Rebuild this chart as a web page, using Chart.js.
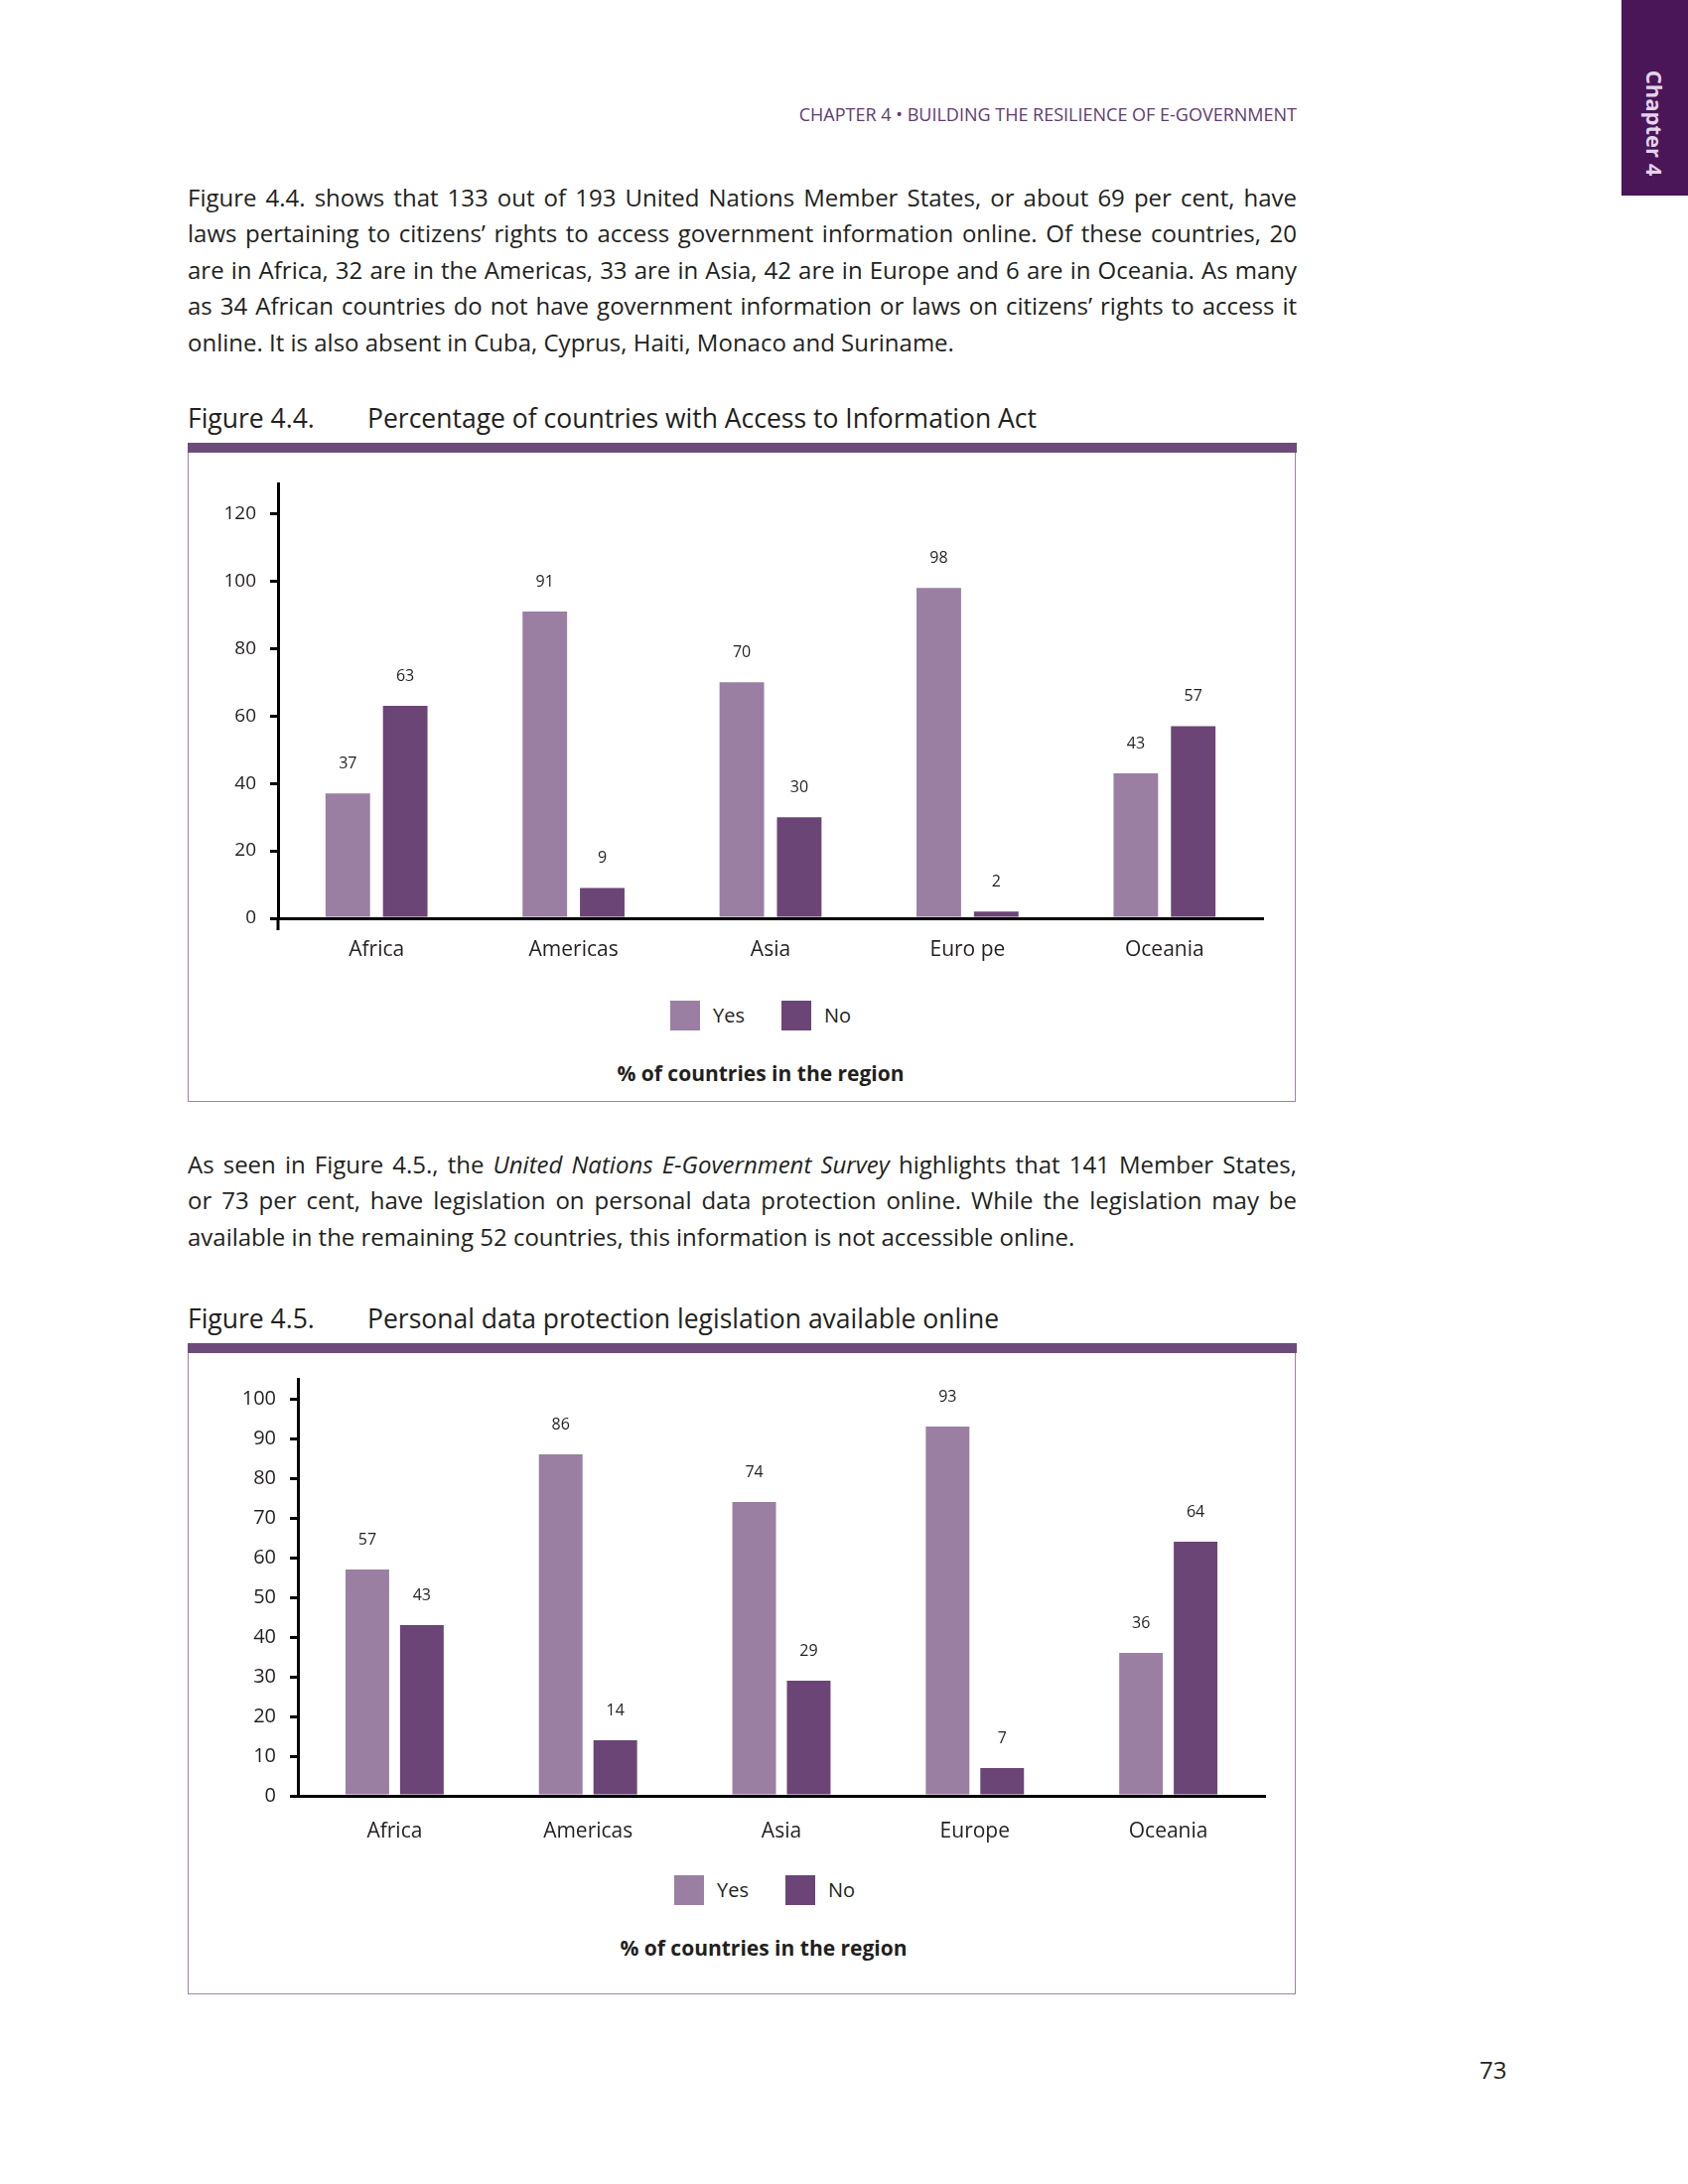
<!DOCTYPE html>
<html>
<head>
<meta charset="utf-8">
<script src="https://cdn.jsdelivr.net/npm/chart.js@4.4.0/dist/chart.umd.min.js"></script>
<style>
html, body { margin: 0; padding: 0; background: #fff; }
body { width: 1700px; height: 2200px; position: relative; overflow: hidden; font-family: "Open Sans", sans-serif; color: #231f20; }
.tab { position: absolute; left: 1633px; top: 0; width: 67px; height: 197px; background: #4a1658; }
.tab span { position: absolute; left: 50%; top: 124px; transform: translate(-50%, -50%) rotate(90deg); color: #e3d3ea; font-weight: 700; font-size: 22px; white-space: nowrap; }
.header { position: absolute; right: 394px; top: 103px; font-size: 18px; line-height: 24px; color: #5f3b6f; white-space: nowrap; }
.para { position: absolute; left: 189px; width: 1117px; font-size: 24px; line-height: 36.4px; }
.para .l { display: block; white-space: nowrap; }
.figtitle { position: absolute; left: 189px; font-size: 26.5px; line-height: 30px; white-space: nowrap; }
.figtitle .t { position: absolute; left: 181px; top: 0; }
.rule { position: absolute; left: 189px; width: 1117px; height: 10px; background: #6d4c7b; }
.box { position: absolute; left: 189px; width: 1114px; border: 1.5px solid #9b85a3; border-top: none; }
.box canvas { display: block; }
.legend { position: absolute; display: flex; align-items: center; font-size: 20px; line-height: 30px; white-space: nowrap; }
.legend .item { display: flex; align-items: center; margin-right: 37px; }
.legend .sw { width: 30px; height: 30px; margin-right: 13px; }
.axnote { position: absolute; width: 400px; text-align: center; font-size: 21px; font-weight: 700; line-height: 30px; white-space: nowrap; }
.pageno { position: absolute; left: 1490px; top: 2070px; font-size: 24px; line-height: 30px; }
</style>
</head>
<body>

<div class="tab"><span>Chapter 4</span></div>
<div class="header">CHAPTER 4 &bull; BUILDING THE RESILIENCE OF E-GOVERNMENT</div>

<div class="para" style="top:181px">
  <span class="l">Figure 4.4. shows that 133 out of 193 United Nations Member States, or about 69 per cent, have</span>
  <span class="l">laws pertaining to citizens’ rights to access government information online. Of these countries, 20</span>
  <span class="l">are in Africa, 32 are in the Americas, 33 are in Asia, 42 are in Europe and 6 are in Oceania. As many</span>
  <span class="l">as 34 African countries do not have government information or laws on citizens’ rights to access it</span>
  <span class="l last">online. It is also absent in Cuba, Cyprus, Haiti, Monaco and Suriname.</span>
</div>

<div class="figtitle" style="top:406px">Figure 4.4.<span class="t">Percentage of countries with Access to Information Act</span></div>
<div class="rule" style="top:446px"></div>
<div class="box" style="top:456px; height:653px"><canvas id="accessChart" width="1114" height="533"></canvas></div>
<div class="legend" id="accessLegend" style="left:675px; top:1008px"></div>
<div class="axnote" id="accessNote" style="left:566px; top:1066px"></div>

<div class="para" style="top:1155px">
  <span class="l">As seen in Figure 4.5., the <i>United Nations E-Government Survey</i> highlights that 141 Member States,</span>
  <span class="l">or 73 per cent, have legislation on personal data protection online. While the legislation may be</span>
  <span class="l last">available in the remaining 52 countries, this information is not accessible online.</span>
</div>

<div class="figtitle" style="top:1313px">Figure 4.5.<span class="t">Personal data protection legislation available online</span></div>
<div class="rule" style="top:1353px"></div>
<div class="box" style="top:1363px; height:645px"><canvas id="privacyChart" width="1114" height="518"></canvas></div>
<div class="legend" id="privacyLegend" style="left:679px; top:1889px"></div>
<div class="axnote" id="privacyNote" style="left:569px; top:1947px"></div>

<div class="pageno">73</div>

<script>
'use strict';

// Figure 4.4 - Access to Information Act
var accessRegions = ['Africa', 'Americas', 'Asia', 'Euro pe', 'Oceania'];
var accessYes = [37, 91, 70, 98, 43];
var accessNo = [63, 9, 30, 2, 57];

// Figure 4.5 - Personal data protection legislation
var privacyRegions = ['Africa', 'Americas', 'Asia', 'Europe', 'Oceania'];
var privacyYes = [57, 86, 74, 93, 36];
var privacyNo = [43, 14, 29, 7, 64];

var seriesNames = ['Yes', 'No'];
var axisNote = '% of countries in the region';

var YES_COLOR = '#9a7fa2';
var NO_COLOR = '#6b4576';
var FONT = '"Open Sans", sans-serif';

Chart.defaults.font.family = FONT;
Chart.defaults.color = '#231f20';

// justify each body line exactly to the column width
document.querySelectorAll('.para .l').forEach(function(line) {
    if (line.classList.contains('last')) return;
    var gaps = line.textContent.trim().split(/\s+/).length - 1;
    var span = document.createElement('span');
    while (line.firstChild) span.appendChild(line.firstChild);
    line.appendChild(span);
    var natural = span.getBoundingClientRect().width;
    line.style.wordSpacing = ((1117 - natural) / gaps) + 'px';
});

// value printed above every bar
var barValues = {
    id: 'barValues',
    afterDatasetsDraw: function(chart, args, opts) {
        var ctx = chart.ctx;
        ctx.save();
        ctx.font = opts.size + 'px ' + FONT;
        ctx.fillStyle = '#231f20';
        ctx.textAlign = 'center';
        ctx.textBaseline = 'middle';
        chart.data.datasets.forEach(function(ds, i) {
            chart.getDatasetMeta(i).data.forEach(function(bar, j) {
                ctx.fillText(ds.data[j], bar.x, bar.y - opts.offset);
            });
        });
        ctx.restore();
    }
};

// short piece of the y axis below zero
var axisStub = {
    id: 'axisStub',
    afterDraw: function(chart, args, opts) {
        if (!opts.length) return;
        var y = chart.scales.y;
        var ctx = chart.ctx;
        var base = y.getPixelForValue(0);
        ctx.save();
        ctx.strokeStyle = '#000';
        ctx.lineWidth = 3;
        ctx.beginPath();
        ctx.moveTo(y.right, base);
        ctx.lineTo(y.right, base + opts.length);
        ctx.stroke();
        ctx.restore();
    }
};

function buildLegend(chart, legendId, noteId) {
    var box = document.getElementById(legendId);
    var items = chart.options.plugins.legend.labels.generateLabels(chart);
    items.forEach(function(item) {
        var el = document.createElement('span');
        el.className = 'item';
        var sw = document.createElement('span');
        sw.className = 'sw';
        sw.style.background = item.fillStyle;
        el.appendChild(sw);
        el.appendChild(document.createTextNode(item.text));
        box.appendChild(el);
    });
    document.getElementById(noteId).textContent = axisNote;
}

function makeChart(id, labels, yes, no, o) {
    var ctx = document.getElementById(id).getContext('2d');
    return new Chart(ctx, {
        type: 'bar',
        data: {
            labels: labels,
            datasets: [
                { label: seriesNames[0], data: yes, backgroundColor: YES_COLOR, borderWidth: 0,
                  categoryPercentage: o.catPct, barPercentage: o.barPct },
                { label: seriesNames[1], data: no, backgroundColor: NO_COLOR, borderWidth: 0,
                  categoryPercentage: o.catPct, barPercentage: o.barPct }
            ]
        },
        options: {
            responsive: false,
            animation: false,
            devicePixelRatio: 1,
            layout: { padding: o.padding },
            plugins: {
                tooltip: { enabled: false },
                legend: { display: false },
                barValues: { size: 16, offset: 30 },
                axisStub: { length: o.stub }
            },
            scales: {
                x: {
                    grid: { display: false, drawTicks: false },
                    border: { display: true, color: '#000', width: 3 },
                    ticks: { font: { size: 21, lineHeight: 1.2 }, padding: o.xPad, color: '#231f20' }
                },
                y: {
                    min: 0,
                    max: o.max,
                    grid: { drawOnChartArea: false, drawTicks: true, tickLength: 8, color: '#000', lineWidth: 3 },
                    border: { display: true, color: '#000', width: 3 },
                    ticks: { stepSize: o.step, includeBounds: false, padding: 14, font: { size: o.tickSize }, color: '#231f20' },
                    afterFit: function(scale) { scale.width = o.yWidth; }
                }
            }
        },
        plugins: [barValues, axisStub]
    });
}

var accessChart = makeChart('accessChart', accessRegions, accessYes, accessNo, {
    max: 129, step: 20, tickSize: 19, yWidth: 80, stub: 12,
    padding: { top: 31, left: 10, right: 32, bottom: 0 },
    catPct: 0.583, barPct: 0.776, xPad: 19.4
});
buildLegend(accessChart, 'accessLegend', 'accessNote');

var privacyChart = makeChart('privacyChart', privacyRegions, privacyYes, privacyNo, {
    max: 105, step: 10, tickSize: 20, yWidth: 100, stub: 0,
    padding: { top: 25, left: 10, right: 30, bottom: 0 },
    catPct: 0.564, barPct: 0.8, xPad: 23.4
});
buildLegend(privacyChart, 'privacyLegend', 'privacyNote');
</script>
</body>
</html>
